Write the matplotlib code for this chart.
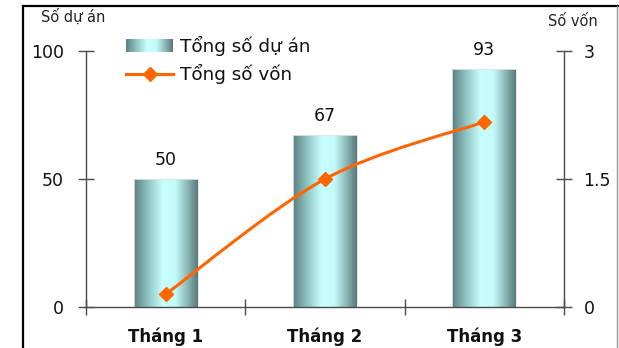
import numpy as np
import matplotlib.pyplot as plt
from matplotlib.colors import LinearSegmentedColormap
from matplotlib.path import Path
from matplotlib.patches import PathPatch
from matplotlib.lines import Line2D

months = ['Tháng 1', 'Tháng 2', 'Tháng 3']
so_du_an = [50, 67, 93]
so_von = [0.15, 1.5, 2.17]
left_ticks = [0, 50, 100]
right_ticks = [0, 1.5, 3]
right_labels = ['0', '1.5', '3']

plt.rcParams['font.family'] = ['DejaVu Sans']
AXIS_COLOR = '#4a4a4a'
ORANGE = '#ff6600'

cyl = LinearSegmentedColormap.from_list(
    'cyl', [(0, '#5c8080'), (0.22, '#8fc4c4'), (0.45, '#c8ffff'),
            (0.65, '#c3fafa'), (0.85, '#88b2b2'), (1, '#587878')])
grad = np.linspace(0, 1, 256).reshape(1, -1)

W, H = 619, 348
fig = plt.figure(figsize=(W / 100, H / 100), dpi=100)
ax = fig.add_axes([86 / W, 1 - 307 / H, 478 / W, 256 / H])
ax2 = ax.twinx()

# bars with a cylinder-like horizontal gradient
x = np.arange(len(months))
bars = ax.bar(x, so_du_an, width=0.4, color='none', edgecolor='#dfe6e6',
              linewidth=0.6, zorder=3)
for b, v in zip(bars, so_du_an):
    x0, y0, w, h = b.get_x(), b.get_y(), b.get_width(), b.get_height()
    im = ax.imshow(grad, cmap=cyl, extent=[x0, x0 + w, y0, y0 + h],
                   aspect='auto', interpolation='bilinear', zorder=2)
    im.set_clip_path(b)
    ax.text(b.get_x() + w / 2, v + 7.5, str(v), ha='center', va='center',
            fontsize=12.5, color='#111111')

ax.set_xlim(-0.5, 2.5)
ax.set_ylim(0, 100)
ax.set_yticks(left_ticks)
ax.set_xticks(x)
ax.set_xticklabels(months, fontsize=12, fontweight='bold', color='#111111')
ax.set_xticks([-0.5, 0.5, 1.5, 2.5], minor=True)
ax.tick_params(axis='x', which='major', length=0, pad=15)
ax.tick_params(axis='x', which='minor', direction='inout', length=11,
               width=1, color=AXIS_COLOR)
ax.tick_params(axis='y', direction='inout', length=12, width=1,
               color=AXIS_COLOR, labelsize=12.5, pad=10, labelcolor='#111111')
for s in ['top', 'right']:
    ax.spines[s].set_visible(False)
for s in ['left', 'bottom']:
    ax.spines[s].set_color(AXIS_COLOR)
    ax.spines[s].set_linewidth(1)

# smoothed line for total capital on the secondary axis
pts = np.column_stack([x, so_von]).astype(float)
ext = np.vstack([pts[0], pts, pts[-1]])
verts = [pts[0]]
codes = [Path.MOVETO]
for i in range(len(pts) - 1):
    p0, p1, p2, p3 = ext[i], ext[i + 1], ext[i + 2], ext[i + 3]
    verts += [p1 + (p2 - p0) / 6, p2 - (p3 - p1) / 6, p2]
    codes += [Path.CURVE4] * 3
ax2.add_patch(PathPatch(Path(verts, codes), fill=False, edgecolor=ORANGE,
                        linewidth=2.2, zorder=4))
ax2.plot(x, so_von, linestyle='none', marker='D', markersize=7.5,
         color=ORANGE, zorder=5)
ax2.set_ylim(0, 3)
ax2.set_yticks(right_ticks)
ax2.set_yticklabels(right_labels)
ax2.tick_params(axis='y', direction='inout', length=12, width=1,
                color=AXIS_COLOR, labelsize=12.5, pad=8, labelcolor='#111111')
for s in ['top', 'left', 'bottom']:
    ax2.spines[s].set_visible(False)
ax2.spines['right'].set_color(AXIS_COLOR)
ax2.spines['right'].set_linewidth(1)

# overlay in pixel units for axis titles, legend and frame
ov = fig.add_axes([0, 0, 1, 1], zorder=10)
ov.set_xlim(0, W)
ov.set_ylim(H, 0)
ov.axis('off')
ov.patch.set_alpha(0)

ov.text(41, 17, 'Số dự án', fontsize=10.5, va='center', ha='left', color='#222222')
ov.text(548, 22, 'Số vốn', fontsize=10.5, va='center', ha='left', color='#222222')

ov.imshow(grad, cmap=cyl, extent=[126, 173, 52, 39], aspect='auto',
          interpolation='bilinear')
ov.text(180, 45.5, 'Tổng số dự án', fontsize=13.2, va='center', ha='left', color='#111111')
ov.add_line(Line2D([126, 173], [74, 74], color=ORANGE, linewidth=2.2))
ov.add_line(Line2D([149.5], [74], marker='D', markersize=7.5, color=ORANGE))
ov.text(180, 74, 'Tổng số vốn', fontsize=13.2, va='center', ha='left', color='#111111')

ov.add_line(Line2D([23, 23], [6, H], color='black', linewidth=1.6))
ov.add_line(Line2D([23, W], [6, 6], color='black', linewidth=1.6))
ov.add_line(Line2D([617, 617], [6, H], color='#999999', linewidth=1))
ov.set_xlim(0, W)
ov.set_ylim(H, 0)

fig.savefig('out.png', dpi=100)
